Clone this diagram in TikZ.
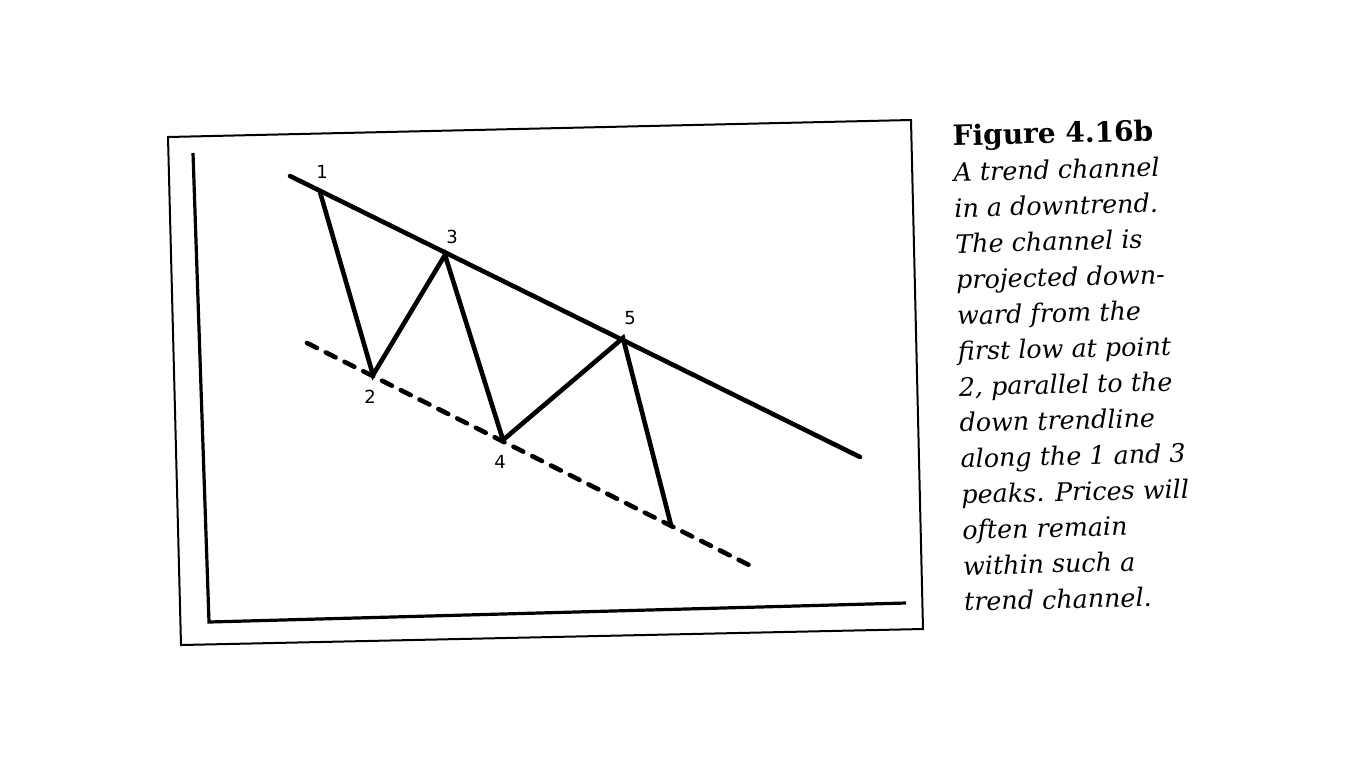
\documentclass[tikz,border=0pt]{standalone}
\usepackage{fontspec}
\setmainfont{DejaVu Serif}
\setsansfont{DejaVu Sans}
\usetikzlibrary{positioning}
\tikzstyle{frame} = [line width=1pt, line join=miter]
\tikzstyle{axis} = [line width=1.6pt, line join=miter]
\tikzstyle{trendline} = [line width=2.3pt, line cap=round]
\tikzstyle{price} = [line width=2.3pt, line join=miter]
\tikzstyle{channel} = [line width=2.3pt, line cap=round, dash pattern=on 5.5pt off 5pt]
\tikzstyle{pointlabel} = [font=\sffamily\fontsize{9}{10}\selectfont, inner sep=0pt]
\tikzstyle{caption} = [align=left, inner sep=0pt, anchor=north west, rotate=1.4, font=\fontsize{12.7}{17.9}\selectfont\itshape]

\begin{document}
\begin{tikzpicture}[x=0.5pt, y=-0.5pt]
\useasboundingbox (0,0) rectangle (1366,768);

% Outer frame
\coordinate (fTL) at (168,137);
\coordinate (fTR) at (911,120);
\coordinate (fBR) at (923,629);
\coordinate (fBL) at (181,645);
\draw [frame] (fTL) -- (fTR) -- (fBR) -- (fBL) -- cycle;

% Axes
\coordinate (yTop) at (193,153);
\coordinate (origin) at (209,622);
\coordinate (xEnd) at (906,603);
\draw [axis] (yTop) -- (origin) -- (xEnd);

% Price swings
\coordinate (p1) at (320,192);
\coordinate (p2) at (373,375);
\coordinate (p3) at (445,255);
\coordinate (p4) at (503,440);
\coordinate (p5) at (623,338);
\coordinate (p6) at (671,525);

% Down trendline and channel line
\coordinate (tStart) at (290,176);
\coordinate (tEnd) at (860,457);
\coordinate (cStart) at (307,343);
\coordinate (cEnd) at (755,568);
\draw [trendline] (tStart) -- (tEnd);
\draw [channel] (cStart) -- (cEnd);
\draw [price] (p1) -- (p2) -- (p3) -- (p4) -- (p5) -- (p6);

% Point labels
\node (lab1) [pointlabel, above=6.5pt of p1, xshift=1pt] {1};
\node (lab2) [pointlabel, below=7.5pt of p2, xshift=-1.5pt] {2};
\node (lab3) [pointlabel, above=5.5pt of p3, xshift=3.5pt] {3};
\node (lab4) [pointlabel, below=7.5pt of p4, xshift=-1.5pt] {4};
\node (lab5) [pointlabel, above=6.5pt of p5, xshift=3.5pt] {5};

% Caption
\node (caption) [caption] at (952,124) {{\upshape\bfseries\fontsize{14}{17.9}\selectfont Figure 4.16b}\\
A trend channel\\
in a downtrend.\\
The channel is\\
projected down-\\
ward from the\\
first low at point\\
2, parallel to the\\
down trendline\\
along the 1 and 3\\
peaks. Prices will\\
often remain\\
within such a\\
trend channel.};

\end{tikzpicture}
\end{document}
